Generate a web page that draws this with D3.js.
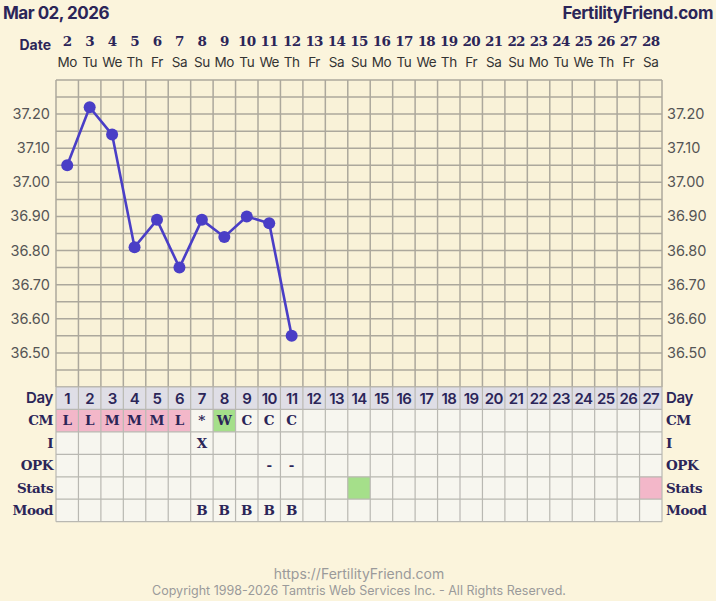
<!DOCTYPE html>
<html>
<head>
<meta charset="utf-8">
<script src="https://cdn.jsdelivr.net/npm/d3@7"></script>
<style>
  html, body { margin: 0; padding: 0; background: #fbf4dc; }
  svg { display: block; }
</style>
</head>
<body>
<svg id="chart"></svg>
<script>
// chart data
const dates = [2, 3, 4, 5, 6, 7, 8, 9, 10, 11, 12, 13, 14, 15, 16, 17, 18, 19, 20, 21, 22, 23, 24, 25, 26, 27, 28];
const weekdays = ['Mo', 'Tu', 'We', 'Th', 'Fr', 'Sa', 'Su', 'Mo', 'Tu', 'We', 'Th', 'Fr', 'Sa', 'Su',
  'Mo', 'Tu', 'We', 'Th', 'Fr', 'Sa', 'Su', 'Mo', 'Tu', 'We', 'Th', 'Fr', 'Sa'];
const cycleDays = [1, 2, 3, 4, 5, 6, 7, 8, 9, 10, 11, 12, 13, 14, 15, 16, 17, 18, 19, 20, 21, 22, 23, 24, 25, 26, 27];
const temps = [37.05, 37.22, 37.14, 36.81, 36.89, 36.75, 36.89, 36.84, 36.90, 36.88, 36.55];
const yTicks = [36.50, 36.60, 36.70, 36.80, 36.90, 37.00, 37.10, 37.20];

const rowNames = ['CM', 'I', 'OPK', 'Stats', 'Mood'];
const cmText = ['L', 'L', 'M', 'M', 'M', 'L', '*', 'W', 'C', 'C', 'C'];
const cmFill = ['pink', 'pink', 'pink', 'pink', 'pink', 'pink', null, 'green'];
const intercourse = [null, null, null, null, null, null, 'X'];
const opk = [null, null, null, null, null, null, null, null, null, '-', '-'];
const statsFill = { 14: 'green', 27: 'pink' };
const mood = [null, null, null, null, null, null, 'B', 'B', 'B', 'B', 'B'];

const W = 716, H = 601;
const fills = { pink: '#f3b7c9', green: '#a5df8a' };
const navy = '#2b2558';
const serif = '"DejaVu Serif", serif';
const sans = 'Inter, "Noto Sans", sans-serif';

const svg = d3.select('#chart').attr('width', W).attr('height', H);
svg.append('rect').attr('width', W).attr('height', H).attr('fill', '#fbf4dc');

const x = d3.scaleBand().domain(d3.range(dates.length)).range([56, 662]);
const y = d3.scaleLinear().domain([36.40, 37.30]).range([387, 80]);
const rowH = x.bandwidth();
const tableTop = 387;

// header
svg.append('text').attr('x', 3).attr('y', 19)
  .attr('font-family', sans).attr('font-weight', 700).attr('font-size', 17)
  .attr('fill', navy).attr('letter-spacing', -0.5).text('Mar 02, 2026');
svg.append('text').attr('x', 713).attr('y', 19).attr('text-anchor', 'end')
  .attr('font-family', sans).attr('font-weight', 700).attr('font-size', 17)
  .attr('fill', navy).attr('letter-spacing', -0.4).text('FertilityFriend.com');

svg.append('text').attr('x', 51).attr('y', 50).attr('text-anchor', 'end')
  .attr('font-family', sans).attr('font-weight', 700).attr('font-size', 14)
  .attr('fill', navy).text('Date');

svg.selectAll('.dnum').data(dates).join('text')
  .attr('x', (d, i) => x(i) + rowH / 2).attr('y', 46)
  .attr('text-anchor', 'middle').attr('font-family', serif).attr('font-weight', 700)
  .attr('font-size', 13.5).attr('fill', navy).attr('letter-spacing', -0.7).text(d => d);

svg.selectAll('.wd').data(weekdays).join('text')
  .attr('x', (d, i) => x(i) + rowH / 2).attr('y', 67)
  .attr('text-anchor', 'middle').attr('font-family', sans)
  .attr('font-size', 13.5).attr('fill', '#333').attr('letter-spacing', -0.4).text(d => d);

// plot grid
const plot = svg.append('g');
plot.append('rect').attr('x', 56).attr('y', 80).attr('width', 606).attr('height', 307).attr('fill', '#f9f2d8');
plot.selectAll('.hl').data(d3.range(0, 19)).join('line')
  .attr('x1', 56).attr('x2', 662)
  .attr('y1', i => y(36.40 + i * 0.05)).attr('y2', i => y(36.40 + i * 0.05))
  .attr('stroke', '#aca89c').attr('stroke-width', 1.5);
plot.selectAll('.vl').data(d3.range(dates.length + 1)).join('line')
  .attr('x1', i => 56 + i * rowH).attr('x2', i => 56 + i * rowH)
  .attr('y1', 80).attr('y2', 387)
  .attr('stroke', '#aca89c').attr('stroke-width', 1.5);

// y labels, both sides
[[50, 'end'], [667, 'start']].forEach(([lx, anchor]) => {
  svg.selectAll(null).data(yTicks).join('text')
    .attr('x', lx).attr('y', d => y(d) + 5).attr('text-anchor', anchor)
    .attr('font-family', sans).attr('font-size', 14.5).attr('fill', '#555')
    .text(d => d.toFixed(2));
});

// temperature line
const line = d3.line().x((d, i) => x(i) + rowH / 2).y(d => y(d));
svg.append('path').datum(temps).attr('d', line)
  .attr('fill', 'none').attr('stroke', '#4a3ec6').attr('stroke-width', 2.6);
svg.selectAll('.pt').data(temps).join('circle')
  .attr('cx', (d, i) => x(i) + rowH / 2).attr('cy', d => y(d)).attr('r', 6)
  .attr('fill', '#4a3ec6');

// table
const table = svg.append('g');
table.selectAll('.dayc').data(cycleDays).join('rect')
  .attr('x', (d, i) => x(i)).attr('y', tableTop).attr('width', rowH).attr('height', rowH)
  .attr('fill', '#dfdee6');
rowNames.forEach((r, ri) => {
  table.selectAll(null).data(cycleDays).join('rect')
    .attr('x', (d, i) => x(i)).attr('y', tableTop + (ri + 1) * rowH)
    .attr('width', rowH).attr('height', rowH)
    .attr('fill', (d, i) => {
      if (r === 'CM' && cmFill[i]) return fills[cmFill[i]];
      if (r === 'Stats' && statsFill[d]) return fills[statsFill[d]];
      return '#f7f6ef';
    });
});
table.selectAll('.thl').data(d3.range(7)).join('line')
  .attr('x1', 56).attr('x2', 662)
  .attr('y1', i => tableTop + i * rowH).attr('y2', i => tableTop + i * rowH)
  .attr('stroke', '#b9b8b2').attr('stroke-width', 1.2);
table.selectAll('.tvl').data(d3.range(dates.length + 1)).join('line')
  .attr('x1', i => 56 + i * rowH).attr('x2', i => 56 + i * rowH)
  .attr('y1', tableTop).attr('y2', tableTop + 6 * rowH)
  .attr('stroke', '#b9b8b2').attr('stroke-width', 1.2);

table.selectAll('.dayn').data(cycleDays).join('text')
  .attr('x', (d, i) => x(i) + rowH / 2).attr('y', tableTop + 16.5)
  .attr('text-anchor', 'middle').attr('font-family', sans).attr('font-weight', 600)
  .attr('font-size', 15).attr('fill', navy).attr('letter-spacing', -0.6).text(d => d);

const cellRows = [cmText, intercourse, opk, [], mood];
cellRows.forEach((vals, ri) => {
  table.selectAll(null).data(vals).join('text')
    .attr('x', (d, i) => x(i) + rowH / 2).attr('y', tableTop + (ri + 1) * rowH + 16)
    .attr('text-anchor', 'middle').attr('font-family', serif).attr('font-weight', 700)
    .attr('font-size', 13.5).attr('fill', navy).text(d => d || '');
});

// row labels
const labels = ['Day'].concat(rowNames);
labels.forEach((t, i) => {
  const isDay = t === 'Day';
  [[53, 'end'], [666, 'start']].forEach(([lx, anchor]) => {
    svg.append('text').attr('x', lx).attr('y', tableTop + i * rowH + 16)
      .attr('text-anchor', anchor)
      .attr('font-family', isDay ? sans : serif).attr('font-weight', isDay ? 600 : 700)
      .attr('font-size', isDay ? 15 : 13.5).attr('fill', navy)
      .attr('letter-spacing', isDay ? -0.3 : -0.5).text(t);
  });
});

// footer
svg.append('text').attr('x', 359).attr('y', 579).attr('text-anchor', 'middle')
  .attr('font-family', sans).attr('font-size', 14).attr('fill', '#9a9a9a')
  .text('https://FertilityFriend.com');
svg.append('text').attr('x', 359).attr('y', 595).attr('text-anchor', 'middle')
  .attr('font-family', sans).attr('font-size', 12.5).attr('fill', '#9a9a9a')
  .text('Copyright 1998-2026 Tamtris Web Services Inc. - All Rights Reserved.');
</script>
</body>
</html>
